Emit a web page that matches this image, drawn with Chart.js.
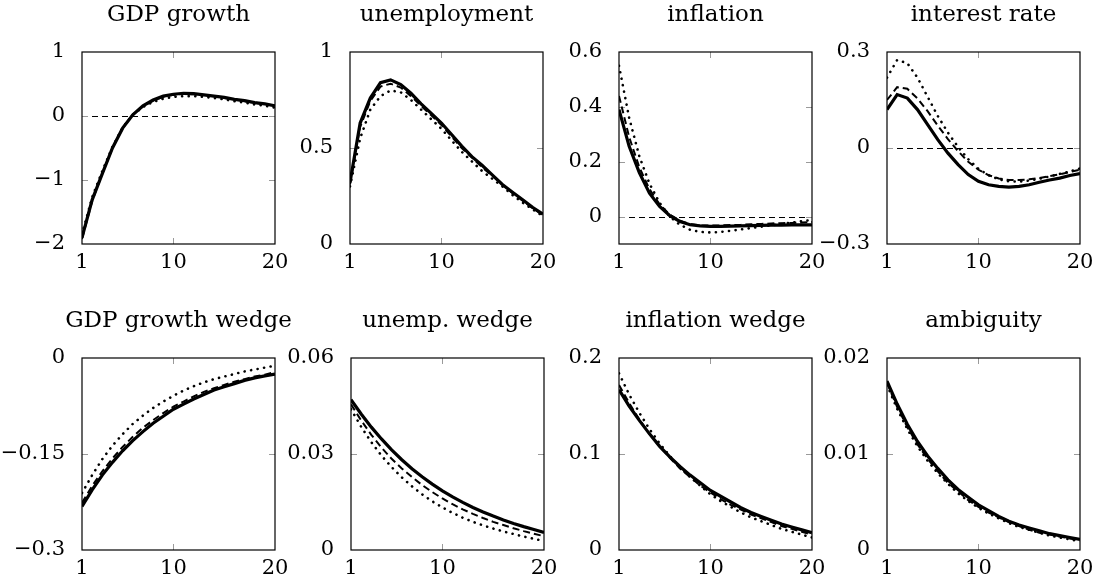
<!DOCTYPE html>
<html lang="en">
<head>
<meta charset="UTF-8">
<title>Impulse responses</title>
<script src="https://cdn.jsdelivr.net/npm/chart.js"></script>
<style>
  body { margin: 0; background: #fff; width: 1099px; height: 588px; position: relative; overflow: hidden; }
  canvas { position: absolute; }
</style>
</head>
<body>
<canvas id="c0" width="357" height="270" style="left:0px;top:4px"></canvas>
<canvas id="c1" width="357" height="270" style="left:268px;top:4px"></canvas>
<canvas id="c2" width="357" height="270" style="left:537px;top:4px"></canvas>
<canvas id="c3" width="357" height="270" style="left:805px;top:4px"></canvas>
<canvas id="c4" width="357" height="270" style="left:0px;top:310px"></canvas>
<canvas id="c5" width="357" height="270" style="left:269px;top:310px"></canvas>
<canvas id="c6" width="357" height="270" style="left:537px;top:310px"></canvas>
<canvas id="c7" width="357" height="270" style="left:805px;top:310px"></canvas>
<script>
// horizons
const periods = [1, 2, 3, 4, 5, 6, 7, 8, 9, 10, 11, 12, 13, 14, 15, 16, 17, 18, 19, 20];
const xTicks = [1, 10, 20];

// GDP growth
const gdpSolid  = [-1.9, -1.31, -0.9, -0.5, -0.19, 0.02, 0.16, 0.25, 0.31, 0.34, 0.355, 0.35, 0.33, 0.31, 0.29, 0.26, 0.24, 0.21, 0.19, 0.16];
const gdpDashed = [-1.92, -1.33, -0.9, -0.5, -0.19, 0.02, 0.15, 0.24, 0.3, 0.33, 0.345, 0.34, 0.33, 0.31, 0.28, 0.26, 0.23, 0.21, 0.18, 0.16];
const gdpDotted = [-1.85, -1.27, -0.86, -0.48, -0.18, 0.02, 0.14, 0.22, 0.27, 0.3, 0.31, 0.31, 0.3, 0.28, 0.26, 0.23, 0.21, 0.18, 0.16, 0.13];

// unemployment
const unSolid  = [0.32, 0.63, 0.76, 0.84, 0.855, 0.83, 0.785, 0.73, 0.68, 0.63, 0.57, 0.51, 0.455, 0.41, 0.36, 0.31, 0.27, 0.23, 0.19, 0.155];
const unDashed = [0.31, 0.61, 0.745, 0.82, 0.835, 0.815, 0.77, 0.72, 0.67, 0.62, 0.56, 0.5, 0.45, 0.4, 0.355, 0.31, 0.265, 0.225, 0.185, 0.15];
const unDotted = [0.3, 0.55, 0.7, 0.77, 0.8, 0.79, 0.75, 0.7, 0.65, 0.6, 0.54, 0.48, 0.43, 0.38, 0.34, 0.3, 0.255, 0.215, 0.18, 0.145];

// inflation
const infSolid  = [0.39, 0.256, 0.16, 0.085, 0.037, 0.003, -0.018, -0.03, -0.034, -0.036, -0.036, -0.035, -0.034, -0.033, -0.032, -0.031, -0.031, -0.03, -0.03, -0.03];
const infDashed = [0.44, 0.29, 0.18, 0.1, 0.045, 0.007, -0.015, -0.027, -0.032, -0.033, -0.032, -0.031, -0.03, -0.028, -0.027, -0.025, -0.024, -0.023, -0.022, -0.02];
const infDotted = [0.55, 0.36, 0.22, 0.12, 0.05, 0.0, -0.03, -0.048, -0.056, -0.058, -0.056, -0.052, -0.047, -0.042, -0.037, -0.032, -0.027, -0.022, -0.017, -0.012];

// interest rate
const rateSolid  = [0.12, 0.167, 0.156, 0.12, 0.073, 0.026, -0.016, -0.052, -0.083, -0.104, -0.115, -0.12, -0.122, -0.12, -0.115, -0.107, -0.1, -0.094, -0.086, -0.08];
const rateDashed = [0.15, 0.19, 0.185, 0.155, 0.115, 0.07, 0.028, -0.01, -0.043, -0.068, -0.085, -0.095, -0.1, -0.1, -0.098, -0.094, -0.088, -0.082, -0.075, -0.068];
const rateDotted = [0.22, 0.275, 0.265, 0.22, 0.16, 0.1, 0.048, 0.003, -0.035, -0.065, -0.085, -0.098, -0.104, -0.105, -0.102, -0.096, -0.089, -0.081, -0.073, -0.064];

// GDP growth wedge
const gwSolid  = [-0.232, -0.206, -0.183, -0.163, -0.145, -0.129, -0.115, -0.102, -0.091, -0.08, -0.072, -0.064, -0.057, -0.05, -0.045, -0.04, -0.035, -0.031, -0.028, -0.025];
const gwDashed = [-0.226, -0.2, -0.177, -0.157, -0.139, -0.123, -0.109, -0.097, -0.086, -0.076, -0.068, -0.06, -0.053, -0.047, -0.042, -0.037, -0.033, -0.029, -0.026, -0.022];
const gwDotted = [-0.211, -0.183, -0.158, -0.137, -0.119, -0.103, -0.09, -0.078, -0.068, -0.059, -0.051, -0.044, -0.038, -0.033, -0.029, -0.025, -0.021, -0.018, -0.015, -0.012];

// unemployment wedge
const uwSolid  = [0.047, 0.0425, 0.0384, 0.0347, 0.0313, 0.0282, 0.0254, 0.0229, 0.0206, 0.0185, 0.0166, 0.0149, 0.0133, 0.0119, 0.0106, 0.0094, 0.0083, 0.0073, 0.0064, 0.0055];
const uwDashed = [0.0455, 0.0405, 0.036, 0.032, 0.0285, 0.0255, 0.0228, 0.0203, 0.0181, 0.0161, 0.0143, 0.0127, 0.0113, 0.01, 0.0088, 0.0078, 0.0068, 0.0059, 0.0051, 0.0043];
const uwDotted = [0.044, 0.0385, 0.0337, 0.0295, 0.0259, 0.0227, 0.0199, 0.0174, 0.0152, 0.0133, 0.0116, 0.0101, 0.0088, 0.0077, 0.0067, 0.0058, 0.005, 0.0042, 0.0035, 0.0028];

// inflation wedge
const iwSolid  = [0.167, 0.15, 0.135, 0.121, 0.108, 0.097, 0.087, 0.078, 0.07, 0.062, 0.056, 0.05, 0.044, 0.039, 0.035, 0.031, 0.027, 0.024, 0.021, 0.018];
const iwDashed = [0.172, 0.153, 0.136, 0.121, 0.108, 0.096, 0.085, 0.076, 0.067, 0.06, 0.053, 0.047, 0.042, 0.037, 0.033, 0.029, 0.025, 0.022, 0.019, 0.016];
const iwDotted = [0.184, 0.162, 0.143, 0.126, 0.111, 0.098, 0.086, 0.076, 0.067, 0.058, 0.051, 0.045, 0.039, 0.034, 0.03, 0.026, 0.022, 0.019, 0.016, 0.013];

// ambiguity
const ambSolid  = [0.0176, 0.0152, 0.0131, 0.0113, 0.0098, 0.0085, 0.0073, 0.0063, 0.0055, 0.0047, 0.0041, 0.0035, 0.003, 0.0026, 0.0023, 0.002, 0.0017, 0.0015, 0.0013, 0.0011];
const ambDashed = [0.0174, 0.0149, 0.0128, 0.011, 0.0095, 0.0082, 0.007, 0.0061, 0.0052, 0.0045, 0.0039, 0.0034, 0.0029, 0.0025, 0.0021, 0.0018, 0.0016, 0.0014, 0.0012, 0.001];
const ambDotted = [0.0172, 0.0147, 0.0126, 0.0108, 0.0093, 0.008, 0.0069, 0.0059, 0.0051, 0.0044, 0.0038, 0.0033, 0.0028, 0.0024, 0.0021, 0.0018, 0.0015, 0.0013, 0.0011, 0.0009];

const titles = ["GDP growth", "unemployment", "inflation", "interest rate",
                "GDP growth wedge", "unemp. wedge", "inflation wedge", "ambiguity"];
const yTicks = [[-2, -1, 0, 1], [0, 0.5, 1], [0, 0.2, 0.4, 0.6], [-0.3, 0, 0.3],
                [-0.3, -0.15, 0], [0, 0.03, 0.06], [0, 0.1, 0.2], [0, 0.01, 0.02]];
const yTickLabels = [["\u22122", "\u22121", "0", "1"], ["0", "0.5", "1"], ["0", "0.2", "0.4", "0.6"], ["\u22120.3", "0", "0.3"],
                     ["\u22120.3", "\u22120.15", "0"], ["0", "0.03", "0.06"], ["0", "0.1", "0.2"], ["0", "0.01", "0.02"]];
const yMin = [-2, 0, -0.1, -0.3, -0.3, 0, 0, 0];
const yMax = [1, 1, 0.6, 0.3, 0, 0.06, 0.2, 0.02];
const zeroLine = [true, false, true, true, false, false, false, false];
const series = [
  [gdpSolid, gdpDashed, gdpDotted], [unSolid, unDashed, unDotted],
  [infSolid, infDashed, infDotted], [rateSolid, rateDashed, rateDotted],
  [gwSolid, gwDashed, gwDotted], [uwSolid, uwDashed, uwDotted],
  [iwSolid, iwDashed, iwDotted], [ambSolid, ambDashed, ambDotted]
];

const FONT = "'DejaVu Serif', serif";
const SIDE = 82; // room for the y labels; an empty right axis mirrors it so the title centres on the box

// box, inside tick marks and the dashed zero line
const framePlugin = {
  id: 'frame',
  beforeDatasetsDraw(chart, args, opts) {
    const { ctx, chartArea: a, scales: { x, y } } = chart;
    ctx.save();
    if (opts.zero) {
      const py = Math.round(y.getPixelForValue(0)) + 0.5;
      ctx.strokeStyle = '#000';
      ctx.lineWidth = 1;
      ctx.setLineDash([6, 4]);
      ctx.beginPath();
      ctx.moveTo(a.left, py);
      ctx.lineTo(a.right, py);
      ctx.stroke();
      ctx.setLineDash([]);
    }
    ctx.strokeStyle = '#9a9a9a';
    ctx.lineWidth = 1;
    x.ticks.forEach(t => {
      const px = Math.round(x.getPixelForValue(t.value)) + 0.5;
      if (px <= a.left + 1 || px >= a.right - 1) return;
      ctx.beginPath();
      ctx.moveTo(px, a.top); ctx.lineTo(px, a.top + 6);
      ctx.moveTo(px, a.bottom); ctx.lineTo(px, a.bottom - 6);
      ctx.stroke();
    });
    y.ticks.forEach(t => {
      const py = Math.round(y.getPixelForValue(t.value)) + 0.5;
      if (py <= a.top + 1 || py >= a.bottom - 1) return;
      ctx.beginPath();
      ctx.moveTo(a.left, py); ctx.lineTo(a.left + 6, py);
      ctx.moveTo(a.right, py); ctx.lineTo(a.right - 6, py);
      ctx.stroke();
    });
    ctx.restore();
  },
  afterDatasetsDraw(chart) {
    const { ctx, chartArea: a } = chart;
    ctx.save();
    ctx.strokeStyle = '#000';
    ctx.lineWidth = 1.2;
    ctx.strokeRect(a.left, a.top, a.right - a.left, a.bottom - a.top);
    ctx.restore();
  }
};

function points(vals) {
  return vals.map((v, i) => ({ x: periods[i], y: v }));
}

function makeChart(i) {
  const [solid, dashed, dotted] = series[i];
  new Chart(document.getElementById('c' + i), {
    type: 'line',
    data: {
      datasets: [
        { data: points(solid), borderColor: '#000', borderWidth: 3.2, pointRadius: 0, tension: 0 },
        { data: points(dashed), borderColor: '#000', borderWidth: 2, borderDash: [7, 4], pointRadius: 0, tension: 0 },
        { data: points(dotted), borderColor: '#000', borderWidth: 2.6, borderDash: [0.1, 6.5], borderCapStyle: 'round', pointRadius: 0, tension: 0 }
      ]
    },
    options: {
      responsive: false,
      animation: false,
      layout: { padding: 0 },
      plugins: {
        legend: { display: false },
        tooltip: { enabled: false },
        title: {
          display: true,
          text: titles[i],
          color: '#000',
          font: { family: FONT, size: 23, weight: 'normal', lineHeight: 1 },
          padding: { top: 0, bottom: 25 }
        },
        frame: { zero: zeroLine[i] }
      },
      scales: {
        x: {
          type: 'linear',
          min: 1,
          max: 20,
          grid: { display: false },
          border: { display: false },
          afterBuildTicks: s => { s.ticks = xTicks.map(v => ({ value: v })); },
          afterFit: s => { s.height = 30; },
          ticks: { color: '#000', maxRotation: 0, autoSkip: false, padding: -2,
                   font: { family: FONT, size: 21 } }
        },
        y: {
          min: yMin[i],
          max: yMax[i],
          grid: { display: false },
          border: { display: false },
          afterBuildTicks: s => { s.ticks = yTicks[i].map(v => ({ value: v })); },
          afterFit: s => { s.width = SIDE; },
          ticks: { color: '#000', padding: 9, autoSkip: false,
                   font: { family: FONT, size: 21 },
                   callback: (v, k) => yTickLabels[i][k] }
        },
        yRight: {
          position: 'right',
          min: yMin[i],
          max: yMax[i],
          grid: { display: false },
          border: { display: false },
          ticks: { display: false },
          afterFit: s => { s.width = SIDE; }
        }
      }
    },
    plugins: [framePlugin]
  });
}

for (let i = 0; i < 8; i++) makeChart(i);
</script>
</body>
</html>
